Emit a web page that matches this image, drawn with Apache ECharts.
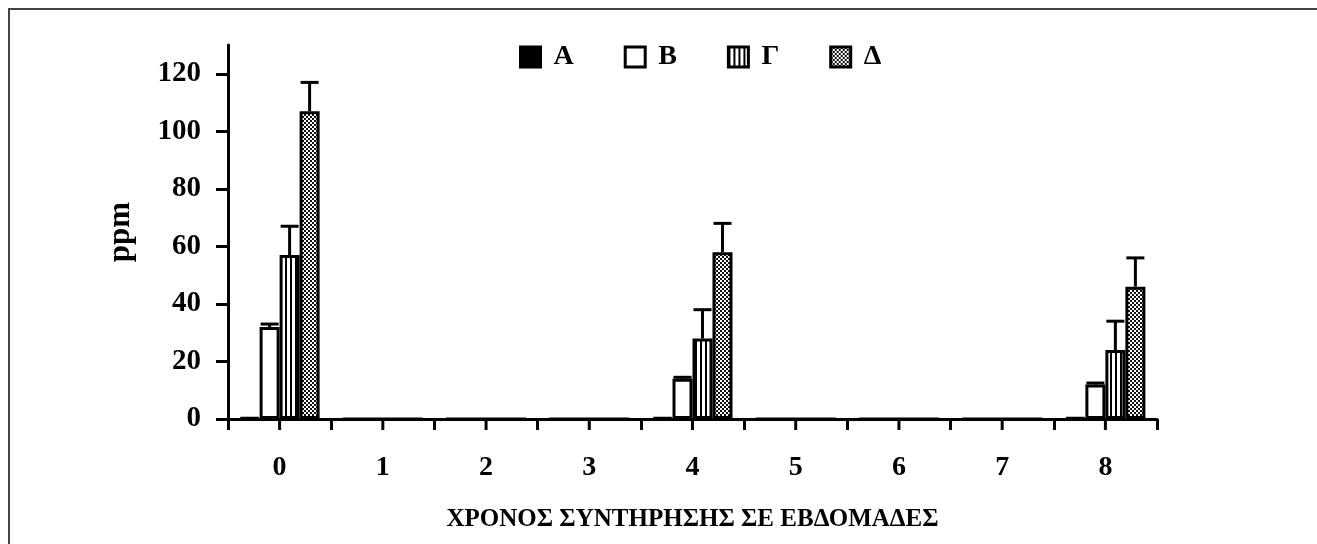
<!DOCTYPE html>
<html>
<head>
<meta charset="utf-8">
<script src="https://cdn.jsdelivr.net/npm/echarts@6/dist/echarts.min.js"></script>
<style>
html,body{margin:0;padding:0;background:#fff;}
#chart{width:1317px;height:544px;}
</style>
</head>
<body>
<div id="chart"></div>
<script>
// ---- data ----
const categories = ['0','1','2','3','4','5','6','7','8'];
const seriesNames = ['Α','Β','Γ','Δ'];
const valuesA = [0.5, 0, 0, 0, 0.5, 0, 0, 0, 0.5];
const valuesB = [32, 0, 0, 0, 14, 0, 0, 0, 12];
const valuesG = [57, 0, 0, 0, 28, 0, 0, 0, 24];
const valuesD = [107, 0, 0, 0, 58, 0, 0, 0, 46];
const errA = [0, 0, 0, 0, 0, 0, 0, 0, 0];
const errB = [1, 0, 0, 0, 0.5, 0, 0, 0, 0.5];
const errG = [10, 0, 0, 0, 10, 0, 0, 0, 10];
const errD = [10, 0, 0, 0, 10, 0, 0, 0, 10];
const yTicks = [0, 20, 40, 60, 80, 100, 120];
const yMax = 130;
const xTitle = 'ΧΡΟΝΟΣ ΣΥΝΤΗΡΗΣΗΣ ΣΕ ΕΒΔΟΜΑΔΕΣ';
const yTitle = 'ppm';

// ---- styling ----
const FONT = '"Liberation Serif", "Times New Roman", serif';
const BAR_W = 20;
const TICK_LEN = 11;

function makeStripes() {
  const c = document.createElement('canvas');
  c.width = 5; c.height = 5;
  const g = c.getContext('2d');
  g.fillStyle = '#fff'; g.fillRect(0, 0, 5, 5);
  g.fillStyle = '#000'; g.fillRect(0, 0, 2, 5);
  return c;
}
function makeChecker() {
  const c = document.createElement('canvas');
  c.width = 4; c.height = 4;
  const g = c.getContext('2d');
  g.fillStyle = '#111'; g.fillRect(0, 0, 4, 4);
  g.fillStyle = '#fff';
  g.fillRect(0, 0, 2, 2);
  g.fillRect(2, 2, 2, 2);
  return c;
}
const fills = [
  '#000',
  '#fff',
  { image: makeStripes(), repeat: 'repeat' },
  { image: makeChecker(), repeat: 'repeat' }
];
const allValues = [valuesA, valuesB, valuesG, valuesD];
const allErr = [errA, errB, errG, errD];

const barSeries = seriesNames.map((name, i) => ({
  name: name,
  type: 'bar',
  barWidth: BAR_W,
  barGap: '0%',
  data: allValues[i],
  itemStyle: { color: fills[i], borderColor: '#000', borderWidth: 3 },
  emphasis: { disabled: true },
  animation: false,
  z: 2
}));

const errData = [];
allErr.forEach((arr, s) => {
  arr.forEach((e, k) => {
    if (e > 0) errData.push([k, allValues[s][k], e, s]);
  });
});

const errSeries = {
  type: 'custom',
  data: errData,
  encode: { x: 0, y: 1 },
  z: 5,
  silent: true,
  animation: false,
  renderItem: function (params, api) {
    const k = api.value(0), v = api.value(1), e = api.value(2), s = api.value(3);
    const p0 = api.coord([k, v]);
    const p1 = api.coord([k, v + e]);
    const cx = p0[0] + (s - 1.5) * BAR_W;
    return {
      type: 'group',
      children: [
        { type: 'line', shape: { x1: cx, y1: p0[1], x2: cx, y2: p1[1] }, style: { stroke: '#000', lineWidth: 3 } },
        { type: 'line', shape: { x1: cx - 9, y1: p1[1], x2: cx + 9, y2: p1[1] }, style: { stroke: '#000', lineWidth: 3 } }
      ]
    };
  }
};

// extra tick at each category centre (boundary ticks come from the axis itself)
const centreTickSeries = {
  type: 'custom',
  data: categories.map((c, k) => [k, 0]),
  encode: { x: 0, y: 1 },
  z: 1,
  silent: true,
  clip: false,
  animation: false,
  renderItem: function (params, api) {
    const p = api.coord([api.value(0), 0]);
    return {
      type: 'line',
      shape: { x1: p[0], y1: p[1], x2: p[0], y2: p[1] + TICK_LEN },
      style: { stroke: '#000', lineWidth: 3 }
    };
  }
};

const chart = echarts.init(document.getElementById('chart'), null, { renderer: 'canvas' });
chart.setOption({
  animation: false,
  backgroundColor: '#fff',
  textStyle: { fontFamily: FONT },
  graphic: [
    { type: 'line', shape: { x1: 8, y1: 9, x2: 1317, y2: 9 }, style: { stroke: '#444', lineWidth: 2 } },
    { type: 'line', shape: { x1: 9, y1: 8, x2: 9, y2: 544 }, style: { stroke: '#444', lineWidth: 2 } }
  ],
  legend: {
    data: seriesNames,
    left: 514,
    top: 38,
    icon: 'rect',
    itemWidth: 20,
    itemHeight: 20,
    itemGap: 50,
    selectedMode: false,
    itemStyle: { borderWidth: 3, borderColor: '#000' },
    textStyle: { fontFamily: FONT, fontWeight: 'bold', fontSize: 28, color: '#000', padding: [0, 0, 0, 8] }
  },
  grid: { left: 228, right: 160, top: 45, bottom: 125, containLabel: false },
  xAxis: {
    type: 'category',
    data: categories,
    name: xTitle,
    nameLocation: 'middle',
    nameGap: 88,
    nameTextStyle: { fontFamily: FONT, fontWeight: 'bold', fontSize: 25, color: '#000' },
    axisLine: { show: true, lineStyle: { color: '#000', width: 3 } },
    axisTick: { show: true, interval: 0, length: TICK_LEN, lineStyle: { color: '#000', width: 3 } },
    axisLabel: { fontFamily: FONT, fontWeight: 'bold', fontSize: 28, color: '#000', margin: 35, interval: 0 },
    splitLine: { show: false }
  },
  yAxis: {
    type: 'value',
    min: 0,
    max: yMax,
    interval: 20,
    name: yTitle,
    nameLocation: 'middle',
    nameGap: 92,
    nameRotate: 90,
    nameTextStyle: { fontFamily: FONT, fontWeight: 'bold', fontSize: 31, color: '#000' },
    axisLine: { show: true, lineStyle: { color: '#000', width: 3 } },
    axisTick: { show: true, length: 12, customValues: yTicks, lineStyle: { color: '#000', width: 3 } },
    axisLabel: { customValues: yTicks, fontFamily: FONT, fontWeight: 'bold', fontSize: 29, color: '#000', margin: 27 },
    splitLine: { show: false }
  },
  series: barSeries.concat([errSeries, centreTickSeries])
});
</script>
</body>
</html>
